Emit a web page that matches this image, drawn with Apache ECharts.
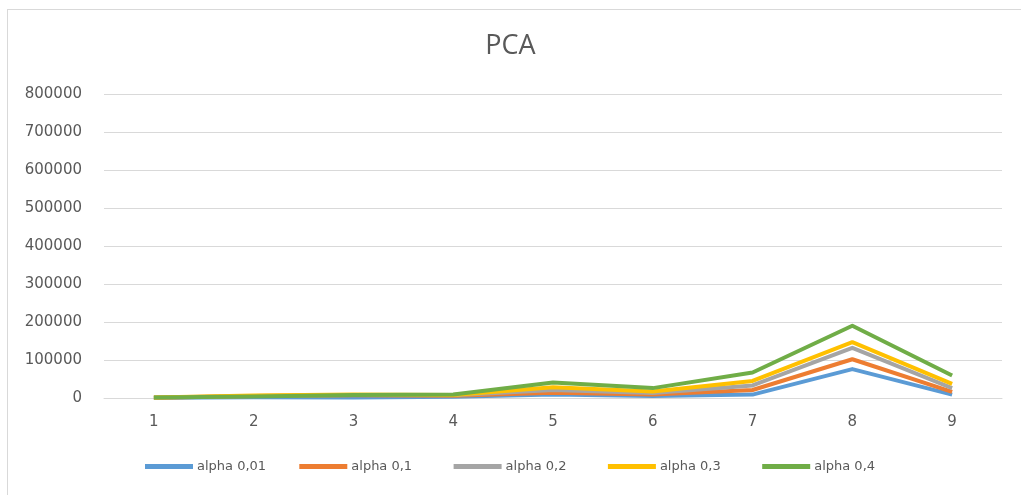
<!DOCTYPE html>
<html>
<head>
<meta charset="utf-8">
<script src="https://cdn.jsdelivr.net/npm/echarts@6/dist/echarts.min.js"></script>
<style>
html,body{margin:0;padding:0;background:#fff;}
#chart{width:1021px;height:495px;}
</style>
</head>
<body>
<div id="chart"></div>
<script>
var categories = ['1','2','3','4','5','6','7','8','9'];
var seriesNames = ['alpha 0,01','alpha 0,1','alpha 0,2','alpha 0,3','alpha 0,4'];
var alpha001 = [500, 2000, 1500, 3000, 9000, 5500, 9000, 76000, 9000];
var alpha01  = [800, 5000, 7000, 6000, 14000, 9000, 21000, 102000, 16000];
var alpha02  = [1000, 5000, 8000, 7000, 21000, 13000, 33000, 132000, 26000];
var alpha03  = [1200, 6500, 9000, 8000, 28000, 17000, 45000, 147000, 37000];
var alpha04  = [1000, 4000, 8000, 9000, 41000, 26000, 67000, 190000, 59000];
var yTicks = {min: 0, max: 800000, interval: 100000};
var colors = ['#5B9BD5','#ED7D31','#A5A5A5','#FFC000','#70AD47'];

var allData = [alpha001, alpha01, alpha02, alpha03, alpha04];
var chart = echarts.init(document.getElementById('chart'));
var labelFont = 'DejaVu Sans';
chart.setOption({
  animation: false,
  color: colors,
  title: {
    text: 'PCA', left: 'center', top: 28,
    textStyle: {fontFamily: 'Open Sans', fontSize: 27, fontWeight: 'normal', color: '#595959'}
  },
  graphic: [
    {type: 'line', shape: {x1: 7, y1: 9.5, x2: 1021, y2: 9.5}, style: {stroke: '#d9d9d9', lineWidth: 1}},
    {type: 'line', shape: {x1: 7.5, y1: 9, x2: 7.5, y2: 495}, style: {stroke: '#d9d9d9', lineWidth: 1}}
  ],
  legend: seriesNames.map(function(n, i){
    return {
      data: [n], bottom: 17, left: 140 + i * 154.3,
      icon: 'rect', itemWidth: 48, itemHeight: 5,
      textStyle: {fontFamily: labelFont, fontSize: 13, color: '#595959', padding: [0,0,0,-1]}
    };
  }),
  grid: {left: 104, right: 19, top: 94, bottom: 97, containLabel: false},
  xAxis: {
    type: 'category', data: categories, boundaryGap: true,
    axisLine: {lineStyle: {color: '#d9d9d9', width: 1}},
    axisTick: {show: false},
    axisLabel: {fontFamily: labelFont, fontSize: 15, color: '#595959', margin: 17}
  },
  yAxis: {
    type: 'value', min: yTicks.min, max: yTicks.max, interval: yTicks.interval,
    axisLine: {show: false}, axisTick: {show: false},
    splitLine: {lineStyle: {color: '#d9d9d9', width: 1}},
    axisLabel: {fontFamily: labelFont, fontSize: 15, color: '#595959', margin: 22,
      formatter: function(v){ return String(v); }}
  },
  series: seriesNames.map(function(n, i){
    return {
      name: n, type: 'line', data: allData[i], symbol: 'none',
      lineStyle: {width: 4, color: colors[i], join: 'round'}
    };
  })
});
</script>
</body>
</html>
